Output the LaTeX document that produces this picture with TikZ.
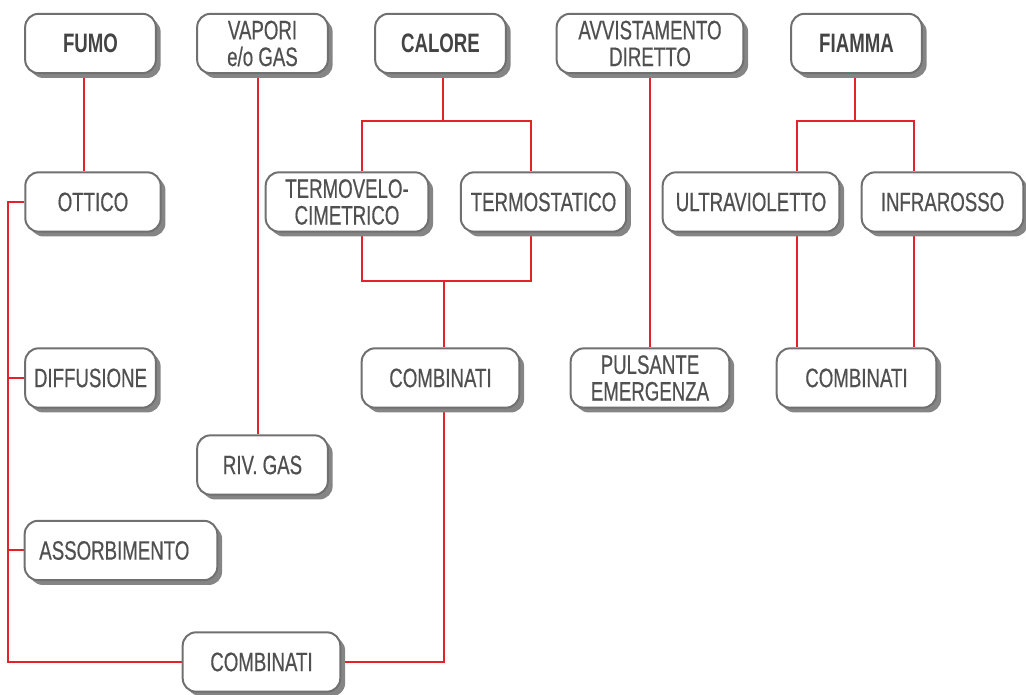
\documentclass[tikz,border=0pt]{standalone}
\usepackage{fontspec}
\setmainfont{Liberation Sans}[FakeStretch=0.7, UprightFeatures={FakeBold=0.5}]
\usetikzlibrary{positioning}
\usetikzlibrary{shadows,backgrounds}

\definecolor{linkred}{HTML}{E32229}
\definecolor{boxgray}{HTML}{707070}
\definecolor{shadowgray}{HTML}{858585}
\definecolor{textgray}{HTML}{505050}

\tikzset{
  box/.style={draw=boxgray, line width=1.5pt, fill=white, rounded corners=10pt,
    minimum height=44.5pt, inner sep=0pt, align=center, text=textgray,
    font=\fontsize{20}{20}\selectfont,
    drop shadow={shadow xshift=3.6pt, shadow yshift=-3.6pt, fill=shadowgray, opacity=1}},
  head/.style={box, font=\fontsize{20}{20}\selectfont\bfseries, text=textgray!85!black},
  link/.style={draw=linkred, line width=1.5pt}
}

\begin{document}
\begin{tikzpicture}[x=0.75pt, y=-0.75pt]
 \useasboundingbox (0,0) rectangle (1026,695);
 % top row
 \node[head, minimum width=98pt] (fumo) at (90.5,43.5) {FUMO};
 \node[box, minimum width=98pt] (vapori) at (262.5,43.5) {VAPORI\\e/o GAS};
 \node[head, minimum width=98pt] (calore) at (440.5,43.5) {CALORE};
 \node[box, minimum width=140pt] (avvist) at (650,43.5) {AVVISTAMENTO\\DIRETTO};
 \node[head, minimum width=98pt] (fiamma) at (856.5,43.5) {FIAMMA};
 % second row
 \node[box, minimum width=101.5pt] (ottico) at (93,202) {OTTICO};
 \node[box, minimum width=122pt] (termovelo) at (347,202) {TERMOVELO-\\CIMETRICO};
 \node[box, minimum width=124pt] (termostatico) at (543.5,202) {TERMOSTATICO};
 \node[box, minimum width=132.5pt] (ultravioletto) at (751,202) {ULTRAVIOLETTO};
 \node[box, minimum width=121.2pt] (infrarosso) at (942.5,202) {INFRAROSSO};
 % third row
 \node[box, minimum width=98pt] (diffusione) at (90.5,378) {DIFFUSIONE};
 \node[box, minimum width=118.2pt] (combcalore) at (440.5,378) {COMBINATI};
 \node[box, minimum width=119pt] (pulsante) at (650,378) {PULSANTE\\EMERGENZA};
 \node[box, minimum width=119.7pt] (combfiamma) at (856.5,378) {COMBINATI};
 % lower part
 \node[box, minimum width=98pt] (rivgas) at (262.5,465) {RIV. GAS};
 \node[box, minimum width=144.5pt] (assorbimento) at (121,550.5) {ASSORBIMENTO\hspace*{10pt}};
 \node[box, minimum width=118.2pt] (combfumo) at (261.5,662) {COMBINATI};

 \coordinate (bus) at (8,204);
 \coordinate (calL) at (362,121);
 \coordinate (calR) at (531,121);
 \coordinate (calM) at (444,281);
 \coordinate (fiaL) at (797,121);
 \coordinate (fiaR) at (914,121);

 \begin{scope}[on background layer]
 % fumo
 \draw[link] ([xshift=-4.9pt]fumo.south) -- ([xshift=-4.9pt]fumo.south |- ottico.north);
 \draw[link] (ottico.west) -| (bus |- combfumo.west) -- (combfumo.west);
 \draw[link] (diffusione.west) -- (bus |- diffusione.west);
 \draw[link] (assorbimento.west) -- (bus |- assorbimento.west);
 % vapori
 \draw[link] ([xshift=-3.4pt]vapori.south) -- ([xshift=-3.4pt]vapori.south |- rivgas.north);
 % calore
 \draw[link] ([xshift=1.9pt]calore.south) -- ([xshift=1.9pt]calore.south |- calL);
 \draw[link] (calL |- termovelo.north) -- (calL) -- (calR) -- (calR |- termostatico.north);
 \draw[link] (calL |- termovelo.south) -- (calL |- calM) -- (calR |- calM) -- (calR |- termostatico.south);
 \draw[link] (calM) -- (calM |- combcalore.north);
 \draw[link] (calM |- combcalore.south) -- (calM |- combfumo.east) -- (combfumo.east);
 % avvistamento
 \draw[link] (avvist.south) -- (pulsante.north);
 % fiamma
 \draw[link] ([xshift=-1.1pt]fiamma.south) -- ([xshift=-1.1pt]fiamma.south |- fiaL);
 \draw[link] (fiaL |- ultravioletto.north) -- (fiaL) -- (fiaR) -- (fiaR |- infrarosso.north);
 \draw[link] (fiaL |- ultravioletto.south) -- (fiaL |- combfiamma.north);
 \draw[link] (fiaR |- infrarosso.south) -- (fiaR |- combfiamma.north);
 \end{scope}
\end{tikzpicture}
\end{document}
